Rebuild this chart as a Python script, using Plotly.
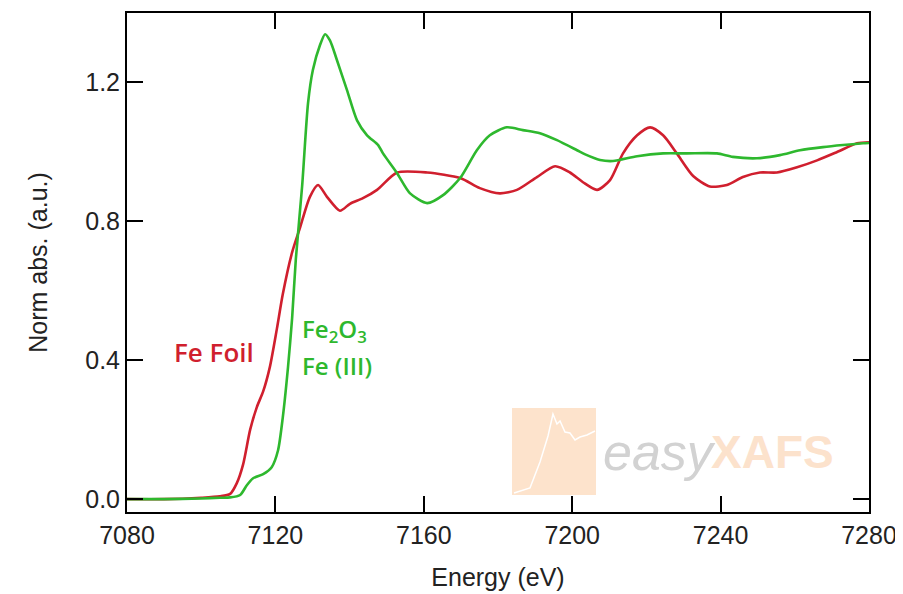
import plotly.graph_objects as go

# ---- data ----
foil_energy = [7080, 7090, 7100, 7105, 7107.8, 7109.6, 7111.3, 7113.2, 7115.0, 7116.7, 7118.5,
               7120.4, 7122.0, 7124.5, 7126.6, 7129.3, 7131.5, 7133.9, 7137.4, 7140.1, 7143.6,
               7147.4, 7152.8, 7160.9, 7169.8, 7175.1, 7180.5, 7185.1, 7190.5, 7195.4, 7199.4,
               7202.9, 7206.7, 7210.2, 7213.7, 7217.5, 7221.0, 7224.5, 7228.2, 7232.6, 7237.1,
               7241.7, 7246.0, 7250.6, 7255.2, 7260.6, 7266.0, 7271.4, 7276.8, 7280]
foil_abs = [0.0, 0.0, 0.004, 0.008, 0.015, 0.046, 0.10, 0.20, 0.265, 0.31, 0.38,
            0.49, 0.59, 0.71, 0.78, 0.87, 0.904, 0.87, 0.83, 0.85, 0.866,
            0.89, 0.94, 0.94, 0.924, 0.895, 0.88, 0.89, 0.927, 0.958, 0.94,
            0.912, 0.89, 0.918, 0.995, 1.047, 1.07, 1.047, 0.995, 0.93, 0.90,
            0.904, 0.927, 0.94, 0.94, 0.955, 0.975, 0.999, 1.024, 1.027]

oxide_energy = [7080, 7090, 7100, 7105, 7107.8, 7110.5, 7112.3, 7114.0, 7116.7, 7119.0, 7120.7,
                7122.0, 7123.4, 7124.5, 7125.5, 7127.2, 7128.8, 7130.1, 7132.0, 7133.4, 7134.7,
                7136.6, 7139.3, 7142.0, 7144.7, 7147.7, 7149.0, 7152.8, 7156.3, 7160.9, 7165.2,
                7169.8, 7174.3, 7177.8, 7182.4, 7186.7, 7191.3, 7195.9, 7201.3, 7203.5, 7207.5,
                7211.0, 7217.5, 7224.5, 7230.9, 7239.0, 7243.3, 7249.8, 7256.0, 7261.4, 7267.6,
                7273.0, 7278.4, 7280]
oxide_abs = [0.0, 0.0, 0.002, 0.004, 0.005, 0.012, 0.04, 0.06, 0.072, 0.092, 0.14,
             0.236, 0.38, 0.52, 0.69, 0.90, 1.14, 1.235, 1.306, 1.338, 1.32,
             1.263, 1.177, 1.09, 1.047, 1.019, 0.995, 0.938, 0.88, 0.852, 0.875,
             0.924, 1.004, 1.047, 1.07, 1.062, 1.053, 1.033, 1.004, 0.992, 0.976,
             0.973, 0.987, 0.995, 0.995, 0.995, 0.985, 0.981, 0.99, 1.004, 1.013,
             1.019, 1.024, 1.025]

x_ticks = [7080, 7120, 7160, 7200, 7240, 7280]
y_ticks = [0.0, 0.4, 0.8, 1.2]

RED = "#d01f2e"
GREEN = "#2eb82e"
FONT = "Arial, Liberation Sans, sans-serif"
LABEL_FONT = "Open Sans, Noto Sans, sans-serif"

# page body adds an 8 px offset; figure is sized so the plot lands where the reference has it
OFF = 8
W, H = 903 - OFF, 594 - OFF
L, R, T, B = 127 - OFF, 34, 13 - OFF, 82

fig = go.Figure()
fig.add_trace(go.Scatter(x=foil_energy, y=foil_abs, mode="lines",
                         line=dict(color=RED, width=2.6, shape="spline", smoothing=0.7),
                         name="Fe Foil", showlegend=False))
fig.add_trace(go.Scatter(x=oxide_energy, y=oxide_abs, mode="lines",
                         line=dict(color=GREEN, width=2.6, shape="spline", smoothing=0.7),
                         name="Fe2O3", showlegend=False))

# ---- watermark logo (screen-pixel positions from the reference) ----
def px2paper(px, py):
    return (px - 127) / 742, (512 - py) / 499

x0, y0 = px2paper(512, 495)
x1, y1 = px2paper(596, 408)
fig.add_shape(type="rect", xref="paper", yref="paper", x0=x0, y0=y0, x1=x1, y1=y1,
              fillcolor="#fde3cc", line=dict(width=0), layer="below")
logo_pts = [(514, 493), (530, 488), (540, 462), (548, 436), (553, 414), (557, 424), (560, 421),
            (565, 432), (570, 433), (575, 440), (580, 437), (587, 435), (595, 431)]
path = ""
for i, (a, b) in enumerate(logo_pts):
    u, v = px2paper(a, b)
    path += ("M" if i == 0 else "L") + f"{u:.4f},{v:.4f} "
fig.add_shape(type="path", xref="paper", yref="paper", path=path,
              line=dict(color="white", width=1.5), layer="below")
ex, ey = px2paper(601, 452)
fig.add_annotation(xref="paper", yref="paper", x=ex, y=ey, text="<i>easy</i>", showarrow=False,
                   xanchor="left", yanchor="middle",
                   font=dict(family="Liberation Sans Narrow, Arial, sans-serif", size=52, color="#d2d2d2"))
xx, xy = px2paper(709, 452)
fig.add_annotation(xref="paper", yref="paper", x=xx, y=xy, text="<b>XAFS</b>", showarrow=False,
                   xanchor="left", yanchor="middle",
                   font=dict(family=FONT, size=46, color="#fce2cc"))

# ---- curve labels ----
lab_font_red = dict(family=LABEL_FONT, size=26, color=RED, weight=600)
lab_font_green = dict(family=LABEL_FONT, size=24, color=GREEN, weight=600)
fig.add_annotation(x=7103.5, y=0.423, text="Fe Foil", showarrow=False, xanchor="center",
                   yanchor="middle", font=lab_font_red)
fig.add_annotation(x=7126.6, y=0.488, text="Fe<sub>2</sub>O<sub>3</sub>", showarrow=False,
                   xanchor="left", yanchor="middle", font=lab_font_green)
fig.add_annotation(x=7126.6, y=0.384, text="Fe (III)", showarrow=False, xanchor="left",
                   yanchor="middle", font=lab_font_green)

axis_common = dict(showline=True, linewidth=2, linecolor="black", mirror="ticks",
                   ticks="inside", ticklen=16, tickwidth=2, tickcolor="black",
                   showgrid=False, zeroline=False, automargin=False,
                   tickfont=dict(family=FONT, size=25, color="#222"))
fig.update_xaxes(range=[7080, 7280], tickvals=x_ticks, ticktext=[str(v) for v in x_ticks],
                 title=dict(text="Energy (eV)", font=dict(family=FONT, size=25, color="#222"), standoff=20),
                 **axis_common)
fig.update_yaxes(range=[-0.037, 1.399], tickvals=y_ticks, ticktext=[f"{v:.1f}" for v in y_ticks],
                 title=dict(text="Norm abs. (a.u.)", font=dict(family=FONT, size=25, color="#222"), standoff=30),
                 **axis_common)

fig.update_layout(width=W, height=H, margin=dict(l=L, r=R, t=T, b=B),
                  paper_bgcolor="white", plot_bgcolor="white")

fig.write_html("out.html")
